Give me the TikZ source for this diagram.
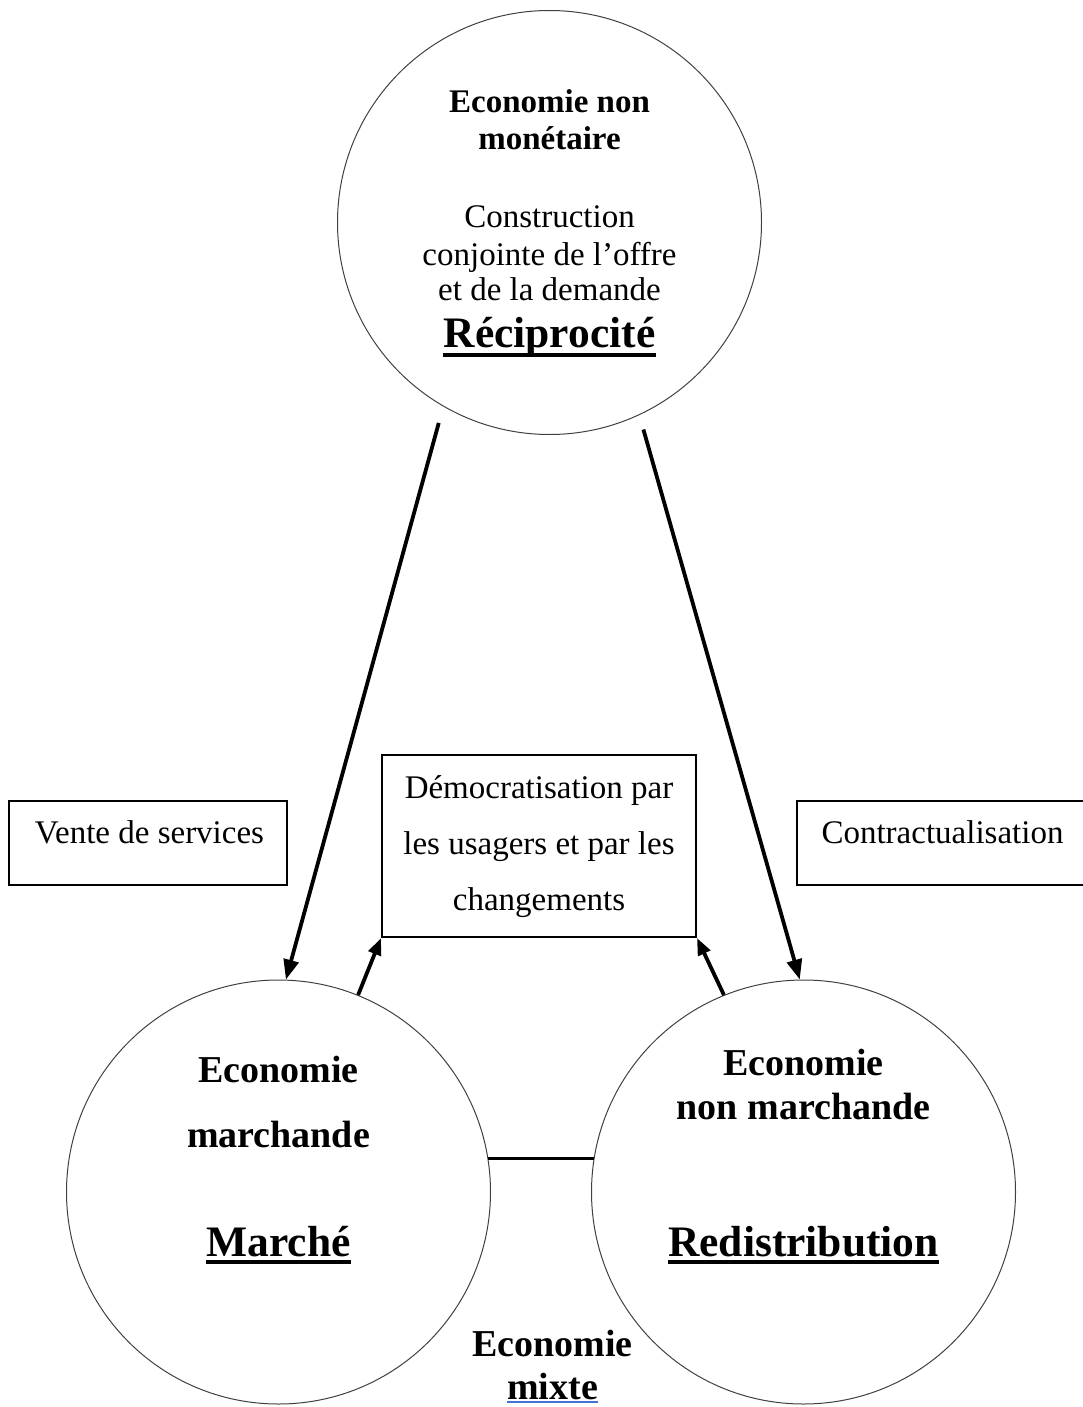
\documentclass[tikz,border=0pt]{standalone}
\usepackage{fontspec}
\setmainfont{Liberation Serif}
\usetikzlibrary{arrows.meta}
\definecolor{linkblue}{RGB}{68,114,216}

\begin{document}
\begin{tikzpicture}[x=1pt,y=-1pt,
  ring/.style={circle, draw=black!75, line width=1pt, minimum size=424pt, inner sep=0pt},
  frame/.style={draw, line width=2pt, inner sep=0pt},
  txt/.style={anchor=base, inner sep=0pt, font=\fontsize{33}{38}\selectfont},
  head/.style={anchor=base, inner sep=0pt, font=\bfseries\fontsize{38}{44}\selectfont},
  title/.style={anchor=base, inner sep=0pt, font=\bfseries\fontsize{43.5}{50}\selectfont},
  uline/.style={line width=3.5pt},
  arr/.style={line width=3.8pt, -{Triangle[length=20pt,width=15pt]}},
  sarr/.style={line width=3.8pt, -{Triangle[length=17pt,width=13pt]}}]
\useasboundingbox (0,0) rectangle (1083,1407);

% circles
\node [ring] (top) at (549.5,222.5) {};
\node [ring] (left) at (278.5,1192) {};
\node [ring] (right) at (803.5,1192) {};

% boxes
\node [frame, minimum width=278pt, minimum height=84pt] (vente) at (148,843) {};
\node [frame, minimum width=291pt, minimum height=84pt] (contrat) at (942.5,843) {};
\node [frame, minimum width=314pt, minimum height=182pt] (demo) at (539,846) {};

% texts of the top circle
\node [txt, font=\bfseries\fontsize{33}{38}\selectfont] (t1) at (549.5,113) {Economie non};
\node [txt, font=\bfseries\fontsize{33}{38}\selectfont] (t2) at (549.5,150) {monétaire};
\node [txt] (t3) at (549.5,227) {Construction};
\node [txt] (t4) at (549.5,265) {conjointe de l’offre};
\node [txt] (t5) at (549.5,300) {et de la demande};
\node [title] (recip) at (549.5,347) {Réciprocité};
\draw [uline] ([yshift=-8pt]recip.base west) -- ([yshift=-8pt]recip.base east);

% texts of the left circle
\node [head] (l1) at (278.5,1082) {Economie};
\node [head] (l2) at (278.5,1147) {marchande};
\node [title] (marche) at (278.5,1256) {Marché};
\draw [uline] ([yshift=-6pt]marche.base west) -- ([yshift=-6pt]marche.base east);

% texts of the right circle
\node [head] (r1) at (803.5,1075) {Economie};
\node [head] (r2) at (803.5,1119) {non marchande};
\node [title] (redis) at (803.5,1256) {Redistribution};
\draw [uline] ([yshift=-6pt]redis.base west) -- ([yshift=-6pt]redis.base east);

% mixed economy
\node [head] (m1) at (552.5,1356) {Economie};
\node [head] (mixte) at (552.5,1399) {mixte};
\draw [linkblue, line width=1.5pt] ([yshift=-3pt]mixte.base west) -- ([yshift=-3pt]mixte.base east);

% box texts
\node [txt] (v1) at (149.5,843) {Vente de services};
\node [txt] (c1) at (942.5,843) {Contractualisation};
\node [txt] (d1) at (539,798) {Démocratisation par};
\node [txt] (d2) at (539,854) {les usagers et par les};
\node [txt] (d3) at (539,910) {changements};

% connectors
\draw [arr, shorten <=17pt] (top.240) -- (left.88);
\draw [arr, shorten <=15pt] (top.295) -- (right.91);
\draw [sarr] (left.68) -- (demo.south west);
\draw [sarr] (right.112) -- (demo.south east);
\draw [line width=3pt] (left.9) -- (right.171);
\end{tikzpicture}
\end{document}
